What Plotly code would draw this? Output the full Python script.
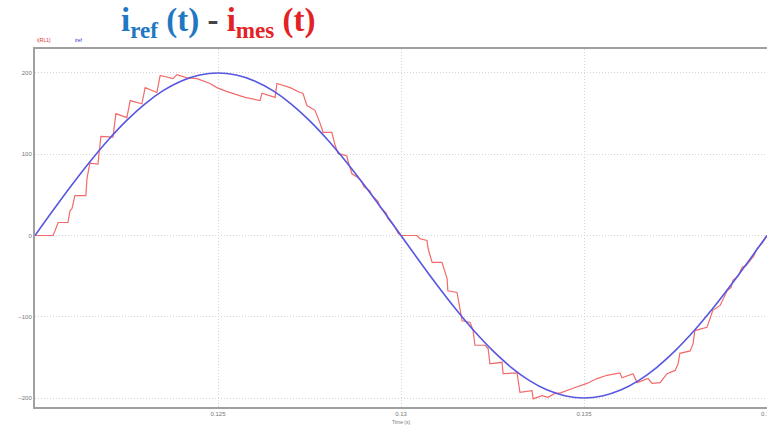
import plotly.graph_objects as go

# Reference current i_ref(t): sampled every 0.5 ms
t_ref = [0.12 + 0.0005 * k for k in range(41)]
i_ref = [0, 31.3, 61.8, 90.8, 117.6, 141.4, 161.8, 178.2, 190.2, 197.5, 200,
         197.5, 190.2, 178.2, 161.8, 141.4, 117.6, 90.8, 61.8, 31.3, 0,
         -31.3, -61.8, -90.8, -117.6, -141.4, -161.8, -178.2, -190.2, -197.5, -200,
         -197.5, -190.2, -178.2, -161.8, -141.4, -117.6, -90.8, -61.8, -31.3, 0]

t_mes = [0.12000, 0.12049, 0.12055, 0.12063, 0.12090, 0.12096, 0.12101, 0.12109,
         0.12139, 0.12142, 0.12150, 0.12172, 0.12180, 0.12213, 0.12221, 0.12251,
         0.12260, 0.12292, 0.12301, 0.12333, 0.12342, 0.12377, 0.12388, 0.12415,
         0.12443, 0.12478, 0.12497, 0.12525, 0.12574, 0.12615, 0.12620, 0.12656,
         0.12661, 0.12697, 0.12724, 0.12732, 0.12743, 0.12765, 0.12779, 0.12787,
         0.12811, 0.12820, 0.12828, 0.12852, 0.12855, 0.12866, 0.12883, 0.12893,
         0.12899, 0.12915, 0.12921, 0.12937, 0.12943, 0.12959, 0.12964, 0.12981,
         0.12992, 0.13000, 0.13044, 0.13052, 0.13071, 0.13074, 0.13085, 0.13112,
         0.13126, 0.13128, 0.13153, 0.13161, 0.13167, 0.13189, 0.13197, 0.13202,
         0.13230, 0.13238, 0.13243, 0.13276, 0.13279, 0.13317, 0.13325, 0.13358,
         0.13361, 0.13385, 0.13402, 0.13421, 0.13434, 0.13470, 0.13508, 0.13536,
         0.13563, 0.13598, 0.13604, 0.13634, 0.13645, 0.13675, 0.13686, 0.13708,
         0.13727, 0.13749, 0.13757, 0.13762, 0.13790, 0.13798, 0.13803, 0.13836,
         0.13844, 0.13852, 0.13872, 0.13883, 0.13891, 0.13902, 0.13907, 0.13921,
         0.13932, 0.13943, 0.13954, 0.13964, 0.13973, 0.13986, 0.14000]
i_mes = [0, 0, 6, 16, 16, 31, 33, 49,
         49, 70, 89, 88, 122, 121, 150, 145,
         166, 162, 182, 176, 197, 193, 198, 194,
         193, 187, 182, 177, 170, 166, 175, 170,
         187, 182, 176, 175, 160, 154, 138, 127,
         127, 111, 101, 98, 92, 76, 71, 66,
         60, 55, 49, 42, 35, 28, 21, 12,
         3, 0, 0, -4, -6, -16, -33, -33,
         -53, -68, -70, -89, -105, -107, -117, -135,
         -135, -139, -158, -156, -170, -169, -193, -191,
         -201, -197, -199, -194, -194, -188, -182, -176,
         -172, -169, -175, -170, -181, -176, -182, -181,
         -170, -166, -158, -145, -142, -133, -117, -113,
         -101, -92, -86, -76, -68, -64, -55, -50,
         -39, -37, -30, -25, -16, -10, 0]

y_ticks = [-200, -100, 0, 100, 200]
x_ticks = [0.125, 0.13, 0.135]
x_tick_labels = ["0.125", "0.13", "0.135"]
x_last_tick = 0.14
x_last_label = "0.14"

fig = go.Figure()
fig.add_trace(go.Scatter(x=t_mes, y=i_mes, mode="lines", name="i(RL1)",
                         line=dict(color="#f26a6a", width=1.2)))
fig.add_trace(go.Scatter(x=t_ref, y=i_ref, mode="lines", name="iref",
                         line=dict(color="#5757e0", width=1.6, shape="spline")))

fig.update_layout(
    width=767, height=426,
    margin=dict(l=35, r=0, t=49, b=19, autoexpand=False),
    paper_bgcolor="white", plot_bgcolor="white",
    showlegend=False,
    font=dict(family="Liberation Sans, Arial", size=6, color="#777777"),
)
fig.update_xaxes(range=[0.12, 0.14], tickvals=x_ticks, ticktext=x_tick_labels,
                 showgrid=True, gridcolor="#d4d4d4", griddash="1px,2px", gridwidth=1,
                 showline=True, linecolor="#a0a0a0", linewidth=2, mirror=True,
                 zeroline=False, ticks="", automargin=False,
                 tickfont=dict(size=6, color="#777777"))
fig.update_yaxes(range=[-211, 229.5], tickvals=y_ticks,
                 showgrid=True, gridcolor="#d4d4d4", griddash="1px,2px", gridwidth=1,
                 showline=True, linecolor="#a0a0a0", linewidth=2, mirror=True,
                 zeroline=False, ticks="", automargin=False,
                 tickfont=dict(size=6, color="#777777"))

# last x tick label, partly cut at the right edge as in the reference
fig.add_annotation(x=x_last_tick, y=0, xref="x", yref="paper", xanchor="center", yanchor="top",
                   yshift=-2, text=x_last_label, showarrow=False,
                   font=dict(size=6, color="#777777"))
# x-axis title, small, under the tick labels
fig.add_annotation(x=0.5, y=0, xref="paper", yref="paper", xanchor="center", yanchor="top",
                   yshift=-10, text="Time (s)", showarrow=False,
                   font=dict(size=5, color="#777777"))
# tiny legend texts
fig.add_annotation(x=0.0, y=1.0, xref="paper", yref="paper", xanchor="left", yanchor="bottom",
                   yshift=4, xshift=0, text="i(RL1)", showarrow=False,
                   font=dict(size=5, color="#e03030"))
fig.add_annotation(x=0.052, y=1.0, xref="paper", yref="paper", xanchor="left", yanchor="bottom",
                   yshift=4, text="iref", showarrow=False,
                   font=dict(size=5, color="#3030d0"))
# big coloured title
fig.add_annotation(x=0.25, y=1.075, xref="paper", yref="paper", xanchor="center", yanchor="middle",
                   showarrow=False,
                   text="<b><span style='color:#1f78c1'>i<sub>ref</sub> (t)</span>"
                        "<span style='color:#444444'> - </span>"
                        "<span style='color:#e42226'>i<sub>mes</sub> (t)</span></b>",
                   font=dict(family="Liberation Serif, Times New Roman", size=33))

fig.write_html("out.html", config={"displayModeBar": False},
               post_script="document.body.style.margin='0px';")
